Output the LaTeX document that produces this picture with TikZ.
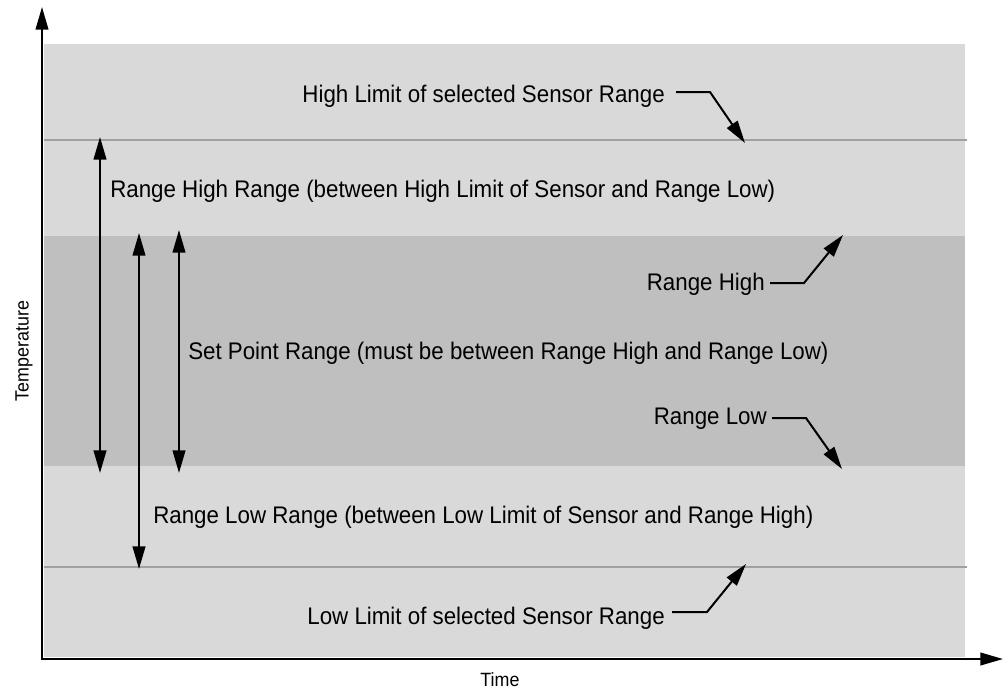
\documentclass[tikz,border=0pt]{standalone}
\usepackage{fontspec}
\setmainfont{Liberation Sans}
\newfontfamily\narrowfont[FakeStretch=0.93]{Liberation Sans}
\usetikzlibrary{arrows.meta}
\definecolor{bglight}{HTML}{D9D9D9}
\definecolor{bgdark}{HTML}{BFBFBF}
\definecolor{limline}{HTML}{A0A0A0}
\begin{document}
\begin{tikzpicture}[x=0.75pt, y=-0.75pt,
    tip/.style={-{Triangle[length=17pt, width=9.5pt]}},
    lbl/.style={inner sep=0pt, font=\narrowfont\fontsize{18}{22}\selectfont},
    axlbl/.style={inner sep=0pt, font=\narrowfont\fontsize{14.4}{17}\selectfont},
    lead/.style={tip, line width=1.5pt},
    dbl/.style={{Triangle[length=17pt, width=9.5pt]}-{Triangle[length=17pt, width=9.5pt]}, line width=1.5pt}]
    \useasboundingbox (0,0) rectangle (1007,694);
    % background bands
    \fill[bglight] (44,44) rectangle (965,657);
    \fill[bgdark] (44,236) rectangle (965,466);
    \draw[limline, line width=1.5pt] (44,140) -- (967,140);
    \draw[limline, line width=1.5pt] (44,567) -- (967,567);
    % axes
    \coordinate (ytip) at (42,7);
    \coordinate (o) at (42,659);
    \coordinate (xtip) at (1003,659);
    \draw[dbl] (ytip) -- (o) -- (xtip);
    \node[axlbl, rotate=90] (temp) at (24,351) {Temperature};
    \node[axlbl] (time) at (500,680) {Time};
    % range arrows
    \foreach \n/\x/\t/\b in {a/100/137/473, b/139/233/569, c/179/230/473} {
        \coordinate (\n1) at (\x,\t);
        \coordinate (\n2) at (\x,\b);
        \draw[dbl] (\n1) -- (\n2);
    }
    \node[lbl, anchor=base west] (hirange) at (110,197) {Range High Range (between High Limit of Sensor and Range Low)};
    \node[lbl, anchor=base west] (setpt) at (188,359) {Set Point Range (must be between Range High and Range Low)};
    \node[lbl, anchor=base west] (lorange) at (153,523) {Range Low Range (between Low Limit of Sensor and Range High)};
    % leader labels
    \node[lbl, anchor=base east] (hilim) at (665,102) {High Limit of selected Sensor Range};
    \node[lbl, anchor=base east] (rhigh) at (765,290) {Range High};
    \node[lbl, anchor=base east] (rlow) at (767,424) {Range Low};
    \node[lbl, anchor=base east] (lolim) at (665,624) {Low Limit of selected Sensor Range};
    \coordinate (hitip) at (745,143);
    \coordinate (rhtip) at (843,235);
    \coordinate (rltip) at (842,469);
    \coordinate (lotip) at (746,564);
    \draw[lead] (hilim.east |- 0,92) ++(11,0) -- ++(34,0) -- (hitip);
    \draw[lead] (rhigh.east |- 0,283) ++(5,0) -- ++(34,0) -- (rhtip);
    \draw[lead] (rlow.east |- 0,418) ++(5,0) -- ++(34,0) -- (rltip);
    \draw[lead] (lolim.east |- 0,612) ++(7,0) -- ++(35,0) -- (lotip);
\end{tikzpicture}
\end{document}
